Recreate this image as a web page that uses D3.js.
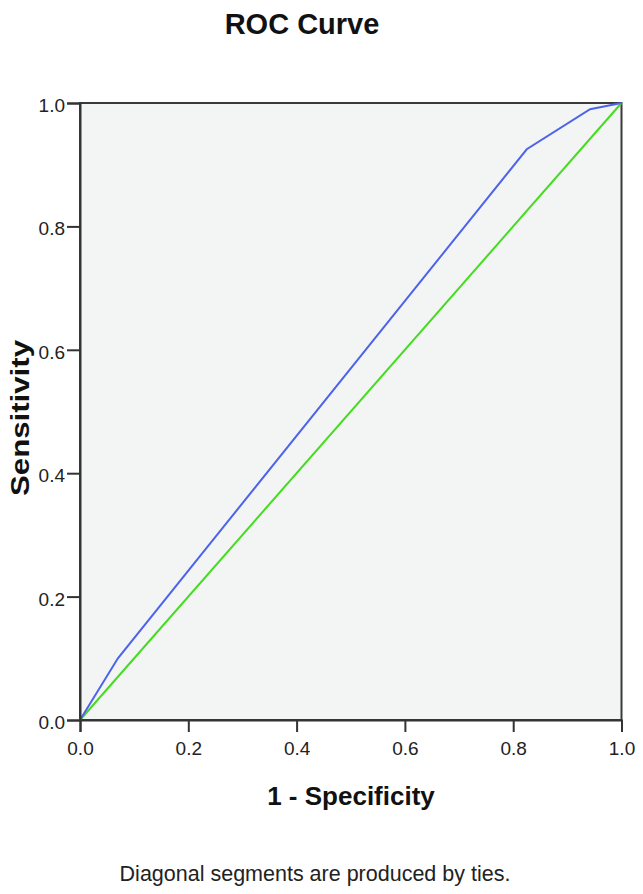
<!DOCTYPE html>
<html><head><meta charset="utf-8">
<script src="https://cdn.jsdelivr.net/npm/d3@7"></script>
<style>
body{margin:0;background:#fff;}
text{font-family:"Liberation Sans Narrow","Arial Narrow","Liberation Sans",Arial,sans-serif;}
</style></head><body>
<script>
const fpr = [0, 0.07, 0.825, 0.942, 1.0];
const tpr = [0, 0.10, 0.925, 0.990, 1.0];
const refX = [0, 1];
const refY = [0, 1];
const tickValues = [0, 0.2, 0.4, 0.6, 0.8, 1.0];
const title = "ROC Curve";
const xLabel = "1 - Specificity";
const yLabel = "Sensitivity";
const footnote = "Diagonal segments are produced by ties.";

const W = 643, H = 894;
const m = {left: 80, right: 21.5, top: 103, bottom: 174};
const svg = d3.select("body").append("svg").attr("width", W).attr("height", H);
const x = d3.scaleLinear().domain([0,1]).range([m.left, W - m.right]);
const y = d3.scaleLinear().domain([0,1]).range([H - m.bottom, m.top]);

svg.append("rect").attr("x", x(0)).attr("y", y(1)).attr("width", x(1)-x(0)).attr("height", y(0)-y(1))
  .attr("fill", "#f3f4f4").attr("stroke", "#3a3a3a").attr("stroke-width", 2);

const line = d3.line().x(d => x(d[0])).y(d => y(d[1]));
svg.append("path").datum(refX.map((v,i)=>[v, refY[i]])).attr("d", line)
  .attr("fill","none").attr("stroke","#44dc1e").attr("stroke-width",2);
svg.append("path").datum(fpr.map((v,i)=>[v, tpr[i]])).attr("d", line)
  .attr("fill","none").attr("stroke","#4d64ea").attr("stroke-width",2);

const fmt = d3.format(".1f");
const xa = svg.append("g").attr("transform", `translate(0,${y(0)})`)
  .call(d3.axisBottom(x).tickValues(tickValues).tickFormat(fmt).tickSize(12).tickPadding(10));
const ya = svg.append("g").attr("transform", `translate(${x(0)},0)`)
  .call(d3.axisLeft(y).tickValues(tickValues).tickFormat(fmt).tickSize(13).tickPadding(2));
[xa, ya].forEach(a => {
  a.select(".domain").attr("stroke", "#333").attr("stroke-width", 2);
  a.selectAll(".tick line").attr("stroke", "#333").attr("stroke-width", 2);
  a.selectAll(".tick text").attr("fill", "#222").style("font-size", "19px");
});
ya.selectAll(".tick text").attr("dy", "0.45em");

svg.append("text").attr("x", 302).attr("y", 34).attr("text-anchor","middle")
  .style("font-size","29px").style("font-weight","bold").attr("fill","#111").text(title);
svg.append("text").attr("x", 351).attr("y", 805).attr("text-anchor","middle")
  .style("font-size","26px").style("font-weight","bold").attr("fill","#111").text(xLabel);
svg.append("text").attr("transform", `translate(29,${418}) rotate(-90) scale(1.2,1)`).attr("text-anchor","middle")
  .style("font-size","26px").style("font-weight","bold").attr("fill","#111").text(yLabel);
svg.append("text").attr("x", 315).attr("y", 881).attr("text-anchor","middle")
  .style("font-size","21.5px").attr("fill","#222").text(footnote);
</script></body></html>
